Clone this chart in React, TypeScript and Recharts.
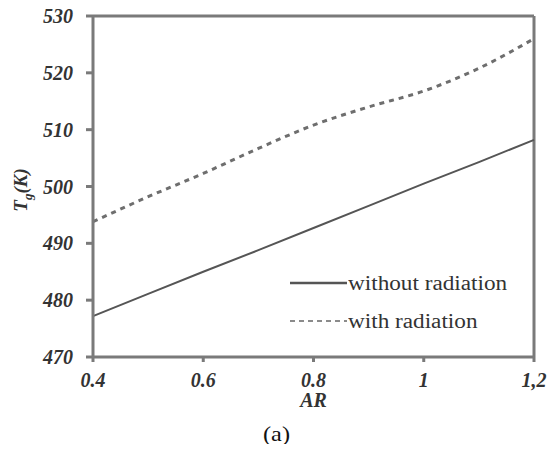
import type { JSX } from "react";
import {
  LineChart,
  Line,
  XAxis,
  YAxis,
  ReferenceLine,
  Label,
} from "recharts";

// AR values along the x axis
const arValues = [0.4, 0.5, 0.6, 0.7, 0.8, 0.9, 1.0, 1.1, 1.2];
// gas temperature (K)
const withoutRadiation = [477.2, 481.1, 485.0, 488.8, 492.7, 496.6, 500.5, 504.3, 508.2];
const withRadiation = [493.8, 498.2, 502.3, 506.7, 510.8, 514.0, 516.8, 520.8, 526.0];

const xTicks = [0.4, 0.6, 0.8, 1, 1.2];
const xTickLabels = ["0.4", "0.6", "0.8", "1", "1,2"];
const yTicks = [470, 480, 490, 500, 510, 520, 530];

const data = arValues.map((ar, i) => ({
  ar,
  without: withoutRadiation[i],
  with: withRadiation[i],
}));

const serif = "'Times New Roman', 'Liberation Serif', Times, serif";
const axisColor = "#7a7a7a";
const tickStyle = {
  fontFamily: serif,
  fontSize: 20,
  fontWeight: 700,
  fontStyle: "italic",
  fill: "#333",
};

// the source figure is a little stretched sideways
const wide = {
  display: "inline-block",
  transform: "scaleX(1.16)",
  transformOrigin: "left center",
};

const LegendBox = (): JSX.Element => (
  <div style={{ fontFamily: serif, fontSize: 20, color: "#333", lineHeight: "38px" }}>
    <div style={{ display: "flex", alignItems: "center" }}>
      <svg width={58} height={10}>
        <line x1={0} y1={5} x2={57} y2={5} stroke="#555" strokeWidth={2.5} />
      </svg>
      <span style={wide}>without radiation</span>
    </div>
    <div style={{ display: "flex", alignItems: "center" }}>
      <svg width={58} height={10}>
        <line x1={0} y1={5} x2={57} y2={5} stroke="#666" strokeWidth={1.5} strokeDasharray="5 4" />
      </svg>
      <span style={wide}>with radiation</span>
    </div>
  </div>
);

const App = (): JSX.Element => {
  return (
    <div style={{ position: "relative", width: 560, height: 452, margin: -8, background: "#fff" }}>
      <LineChart
        width={560}
        height={452}
        data={data}
        margin={{ top: 16, right: 26, bottom: 55, left: 0 }}
      >
        <XAxis
          dataKey="ar"
          type="number"
          domain={[0.4, 1.2]}
          ticks={xTicks}
          tickFormatter={(v: number) => xTickLabels[xTicks.indexOf(v)] ?? String(v)}
          stroke={axisColor}
          strokeWidth={3}
          tickSize={5}
          tickMargin={11}
          tick={tickStyle}
          height={40}
        >
          <Label
            value="AR"
            position="bottom"
            offset={-4}
            style={{ ...tickStyle, textAnchor: "middle" }}
          />
        </XAxis>
        <YAxis
          type="number"
          domain={[470, 530]}
          ticks={yTicks}
          stroke={axisColor}
          strokeWidth={3}
          tickSize={7}
          tickMargin={13}
          tick={tickStyle}
          width={93}
        />
        <ReferenceLine y={530} stroke={axisColor} strokeWidth={3} />
        <ReferenceLine x={1.2} stroke={axisColor} strokeWidth={3} />
        <Line
          type="linear"
          dataKey="without"
          stroke="#555"
          strokeWidth={2}
          dot={false}
          isAnimationActive={false}
        />
        <Line
          type="monotone"
          dataKey="with"
          stroke="#6e6e6e"
          strokeWidth={3}
          strokeDasharray="5 5"
          dot={false}
          isAnimationActive={false}
        />
      </LineChart>
      <div style={{ position: "absolute", left: 290, top: 264 }}>
        <LegendBox />
      </div>
      <svg
        width={40}
        height={120}
        style={{ position: "absolute", left: 0, top: 130 }}
      >
        <text
          transform="translate(27,60) rotate(-90)"
          textAnchor="middle"
          style={{ fontFamily: serif, fontSize: 19, fontWeight: 700, fontStyle: "italic", fill: "#333" }}
        >
          T<tspan fontSize={13} dy={5}>g</tspan>
          <tspan dy={-5}>(K)</tspan>
        </text>
      </svg>
      <div
        style={{
          position: "absolute",
          left: 263,
          top: 422,
          fontFamily: serif,
          fontSize: 21,
          color: "#111",
        }}
      >
        <span style={wide}>(a)</span>
      </div>
    </div>
  );
};

export default App;
